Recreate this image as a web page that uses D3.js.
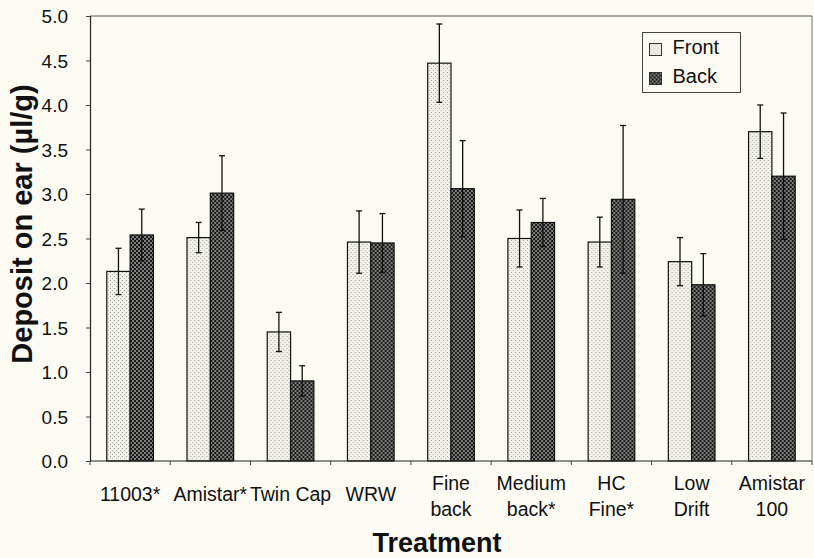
<!DOCTYPE html>
<html>
<head>
<meta charset="utf-8">
<script src="https://cdn.jsdelivr.net/npm/d3@7"></script>
<style>
  html, body { margin: 0; padding: 0; background: #fbfbf3; }
  svg { display: block; }
  text { font-family: Arial, "Liberation Sans", sans-serif; fill: #111; }
</style>
</head>
<body>
<svg id="chart" width="814" height="558"></svg>
<script>
// Treatments (line breaks mark two-line tick labels)
const categories = ["11003*", "Amistar*", "Twin Cap", "WRW", "Fine\nback", "Medium\nback*", "HC\nFine*", "Low\nDrift", "Amistar\n100"];
const seriesNames = ["Front", "Back"];

// Mean deposit on ear (µl/g) and error half-widths
const frontValues = [2.13, 2.51, 1.45, 2.46, 4.47, 2.50, 2.46, 2.24, 3.70];
const frontErrors = [0.26, 0.17, 0.22, 0.35, 0.44, 0.32, 0.28, 0.27, 0.30];
const backValues  = [2.54, 3.01, 0.90, 2.45, 3.06, 2.68, 2.94, 1.98, 3.20];
const backErrors  = [0.29, 0.42, 0.17, 0.33, 0.54, 0.27, 0.83, 0.35, 0.71];

const yTicks = [0, 0.5, 1.0, 1.5, 2.0, 2.5, 3.0, 3.5, 4.0, 4.5, 5.0];

const width = 814, height = 558;
const margin = { top: 16, right: 2, bottom: 97, left: 90 };
const innerW = width - margin.left - margin.right;
const innerH = height - margin.top - margin.bottom;

const svg = d3.select("#chart");

// Fill patterns for the two series
const defs = svg.append("defs");
const pFront = defs.append("pattern").attr("id", "pat-front")
  .attr("patternUnits", "userSpaceOnUse").attr("width", 4).attr("height", 4);
pFront.append("rect").attr("width", 4).attr("height", 4).attr("fill", "#f3f2ea");
pFront.append("rect").attr("x", 0).attr("y", 0).attr("width", 1).attr("height", 1).attr("fill", "#9c9c96");
pFront.append("rect").attr("x", 2).attr("y", 2).attr("width", 1).attr("height", 1).attr("fill", "#b4b4ae");

const pBack = defs.append("pattern").attr("id", "pat-back")
  .attr("patternUnits", "userSpaceOnUse").attr("width", 4).attr("height", 4);
pBack.append("rect").attr("width", 4).attr("height", 4).attr("fill", "#7c7c7a");
pBack.append("rect").attr("x", 0).attr("y", 0).attr("width", 2).attr("height", 2).attr("fill", "#1a1a1a");
pBack.append("rect").attr("x", 2).attr("y", 2).attr("width", 2).attr("height", 2).attr("fill", "#1a1a1a");

const fills = { Front: "url(#pat-front)", Back: "url(#pat-back)" };

const g = svg.append("g").attr("transform", `translate(${margin.left},${margin.top})`);

const x0 = d3.scaleBand().domain(categories).range([0, innerW]).padding(0);
const x1 = d3.scaleBand().domain(seriesNames).range([0, x0.bandwidth()])
  .paddingInner(0).paddingOuter(0.72);
const y = d3.scaleLinear().domain([0, 5]).range([innerH, 0]);

// Frame: top and right borders
g.append("line").attr("x1", 0).attr("x2", innerW).attr("y1", 0).attr("y2", 0)
  .attr("stroke", "#555").attr("stroke-width", 1);
g.append("line").attr("x1", innerW).attr("x2", innerW).attr("y1", 0).attr("y2", innerH)
  .attr("stroke", "#777").attr("stroke-width", 1);

// Bars
const rows = categories.map((c, i) => ({
  cat: c,
  items: [
    { s: "Front", v: frontValues[i], e: frontErrors[i] },
    { s: "Back",  v: backValues[i],  e: backErrors[i] }
  ]
}));

const groups = g.selectAll("g.grp").data(rows).join("g")
  .attr("class", "grp")
  .attr("transform", d => `translate(${x0(d.cat)},0)`);

groups.selectAll("rect").data(d => d.items).join("rect")
  .attr("x", d => x1(d.s))
  .attr("y", d => y(d.v))
  .attr("width", x1.bandwidth())
  .attr("height", d => innerH - y(d.v))
  .attr("fill", d => fills[d.s])
  .attr("stroke", "#111")
  .attr("stroke-width", 1.2);

// Error bars with caps
const cap = 3;
groups.selectAll("g.err").data(d => d.items).join("g")
  .attr("class", "err")
  .each(function(d) {
    const cx = x1(d.s) + x1.bandwidth() / 2;
    const e = d3.select(this);
    const t = y(d.v + d.e), b = y(d.v - d.e);
    e.append("line").attr("x1", cx).attr("x2", cx).attr("y1", t).attr("y2", b);
    e.append("line").attr("x1", cx - cap).attr("x2", cx + cap).attr("y1", t).attr("y2", t);
    e.append("line").attr("x1", cx - cap).attr("x2", cx + cap).attr("y1", b).attr("y2", b);
  })
  .selectAll("line").attr("stroke", "#111").attr("stroke-width", 1.3);

// Y axis
const yAxis = g.append("g")
  .call(d3.axisLeft(y).tickValues(yTicks).tickFormat(d3.format(".1f")).tickSize(4).tickPadding(18));
yAxis.select(".domain").attr("stroke", "#222").attr("stroke-width", 1.2);
yAxis.selectAll(".tick line").attr("stroke", "#444");
yAxis.selectAll(".tick text").attr("font-size", 19).attr("fill", "#111")
  .attr("font-family", "Arial, 'Liberation Sans', sans-serif").attr("dy", "0.35em");

// X axis: baseline, boundary ticks, multi-line labels
const xAxisG = g.append("g").attr("transform", `translate(0,${innerH})`);
xAxisG.append("line").attr("x1", 0).attr("x2", innerW).attr("stroke", "#222").attr("stroke-width", 1.2);
const bounds = categories.map(c => x0(c)).concat([innerW]);
xAxisG.selectAll("line.tk").data(bounds).join("line").attr("class", "tk")
  .attr("x1", d => d).attr("x2", d => d).attr("y1", 0).attr("y2", 4)
  .attr("stroke", "#444");

const labels = xAxisG.selectAll("text.cat").data(categories).join("text")
  .attr("class", "cat")
  .attr("text-anchor", "middle")
  .attr("font-size", 19.5)
  .attr("transform", d => `translate(${x0(d) + x0.bandwidth() / 2},0)`);
labels.each(function(d) {
  const lines = d.split("\n");
  const t = d3.select(this);
  const first = lines.length === 1 ? 40 : 29;
  lines.forEach((ln, i) => {
    t.append("tspan").attr("x", 0).attr("y", first + i * 26).text(ln);
  });
});

// Axis titles
svg.append("text")
  .attr("x", margin.left + innerW / 2 - 14)
  .attr("y", 552)
  .attr("text-anchor", "middle")
  .attr("font-size", 27).attr("font-weight", "bold")
  .text("Treatment");

svg.append("text")
  .attr("transform", `translate(32,${224}) rotate(-90)`)
  .attr("text-anchor", "middle")
  .attr("font-size", 29).attr("font-weight", "bold")
  .text("Deposit on ear (µl/g)");

// Legend
const legend = svg.append("g").attr("transform", "translate(642.5,32.5)");
legend.append("rect").attr("width", 98).attr("height", 60)
  .attr("fill", "#fbfbf3").attr("stroke", "#444").attr("stroke-width", 1);
seriesNames.forEach((s, i) => {
  const row = legend.append("g").attr("transform", `translate(7,${11 + i * 29})`);
  row.append("rect").attr("width", 12).attr("height", 12)
    .attr("fill", fills[s]).attr("stroke", "#333").attr("stroke-width", 1);
  row.append("text").attr("x", 23).attr("y", 10).attr("font-size", 20).text(s);
});
</script>
</body>
</html>
